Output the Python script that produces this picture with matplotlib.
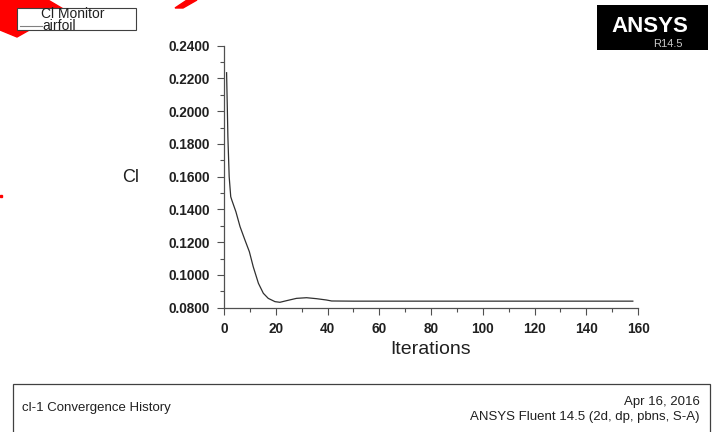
# plot.py
# Fluent 수렴 이력 (Cl Monitor) 재현

import matplotlib
matplotlib.use("Agg")
import matplotlib.pyplot as plt
from matplotlib.patches import Polygon, Rectangle
from matplotlib.ticker import MultipleLocator, FormatStrFormatter

plt.rcParams["font.family"] = ["Liberation Sans", "DejaVu Sans"]

# 데이터
iterations = [1, 1.3, 1.5, 2, 2.6, 3, 4.6, 6.2, 8.1, 9.8, 11.3, 13.3, 15.2,
              17.1, 19.7, 21.6, 24.2, 28, 31.9, 35.8, 39.6, 41.6, 50, 80, 120, 158]
cl = [0.2235, 0.2007, 0.1844, 0.1600, 0.1478, 0.1458, 0.1386, 0.1295, 0.1213,
      0.1142, 0.1050, 0.0949, 0.0888, 0.0857, 0.0837, 0.0833, 0.0843, 0.0857,
      0.0861, 0.0855, 0.0847, 0.0841, 0.0840, 0.0840, 0.0840, 0.0840]

W, H = 712, 432
fig = plt.figure(figsize=(W / 100, H / 100), dpi=100)


def px(x, y):
    # 픽셀 좌표 -> figure 좌표
    return (x / W, 1 - y / H)


# 축
ax = fig.add_axes([224 / W, 1 - 307.7 / H, (638 - 224) / W, (307.7 - 45.7) / H])
ax.plot(iterations, cl, color="#303030", lw=0.9)
ax.set_xlim(0, 160)
ax.set_ylim(0.08, 0.24)
ax.xaxis.set_major_locator(MultipleLocator(20))
ax.xaxis.set_minor_locator(MultipleLocator(10))
ax.yaxis.set_major_locator(MultipleLocator(0.02))
ax.yaxis.set_minor_locator(MultipleLocator(0.01))
ax.yaxis.set_major_formatter(FormatStrFormatter("%.4f"))
for s in ["top", "right"]:
    ax.spines[s].set_visible(False)
for s in ["left", "bottom"]:
    ax.spines[s].set_color("#505050")
    ax.spines[s].set_linewidth(0.9)
ax.tick_params(which="major", direction="out", length=5, width=0.8,
               color="#505050", labelsize=9.8, pad=5)
ax.tick_params(which="minor", direction="out", length=3, width=0.8,
               color="#505050")
for lab in ax.get_xticklabels() + ax.get_yticklabels():
    lab.set_fontweight("bold")
    lab.set_color("#202020")
ax.set_xlabel("Iterations", fontsize=14, color="#202020", labelpad=4)
fig.text(*px(131, 178), "Cl", fontsize=13, ha="center", va="center",
         color="#202020")

# 왼쪽 위 빨간 도형 (잘린 화살표)
fig.patches.append(Polygon([px(0, 0), px(48, 0), px(65, 10), px(17, 37),
                            px(0, 30)], closed=True, color="#ff0000",
                           transform=fig.transFigure, zorder=1))
fig.patches.append(Polygon([px(175, 8), px(183, 8), px(197, 0), px(187, 0)],
                           closed=True, color="#ff0000",
                           transform=fig.transFigure, zorder=1))
fig.patches.append(Rectangle(px(0, 197), 2 / W, 2 / H, color="#ff0000",
                             transform=fig.transFigure, zorder=1))

# 범례 상자
x0, y0 = px(17, 30)
fig.patches.append(Rectangle((x0, y0), (136 - 17) / W, 22 / H,
                             facecolor="white", edgecolor="#404040", lw=0.8,
                             transform=fig.transFigure, zorder=2))
fig.text(*px(41, 18.5), "Cl Monitor", fontsize=10, va="baseline",
         color="#202020", zorder=3)
fig.lines.append(plt.Line2D([20 / W, 42 / W], [1 - 25.5 / H, 1 - 25.5 / H],
                            color="#808080", lw=0.8,
                            transform=fig.transFigure, zorder=3))
fig.text(*px(42, 30), "airfoil", fontsize=10, va="baseline",
         color="#202020", zorder=3)

# ANSYS 로고
bx, by = px(597, 50)
fig.patches.append(Rectangle((bx, by), (708 - 597) / W, 45 / H,
                             facecolor="black", edgecolor="none",
                             transform=fig.transFigure))
fig.text(*px(650, 32), "ANSYS", fontsize=16, fontweight="bold", color="white",
         ha="center", va="baseline")
fig.text(*px(683, 47), "R14.5", fontsize=8, color="#c8c8c8", ha="right",
         va="baseline")

# 아래 정보 상자
fx, fy = px(13, 440)
fig.patches.append(Rectangle((fx, fy), (710 - 13) / W, (440 - 384) / H,
                             facecolor="white", edgecolor="#404040", lw=0.9,
                             transform=fig.transFigure, zorder=0))
fig.text(*px(22, 411), "cl-1 Convergence History", fontsize=9.5,
         va="baseline", color="#202020")
fig.text(*px(700, 405), "Apr 16, 2016", fontsize=9.5, ha="right",
         va="baseline", color="#202020")
fig.text(*px(700, 420), "ANSYS Fluent 14.5 (2d, dp, pbns, S-A)", fontsize=9.5,
         ha="right", va="baseline", color="#202020")

fig.savefig("out.png", dpi=100)
